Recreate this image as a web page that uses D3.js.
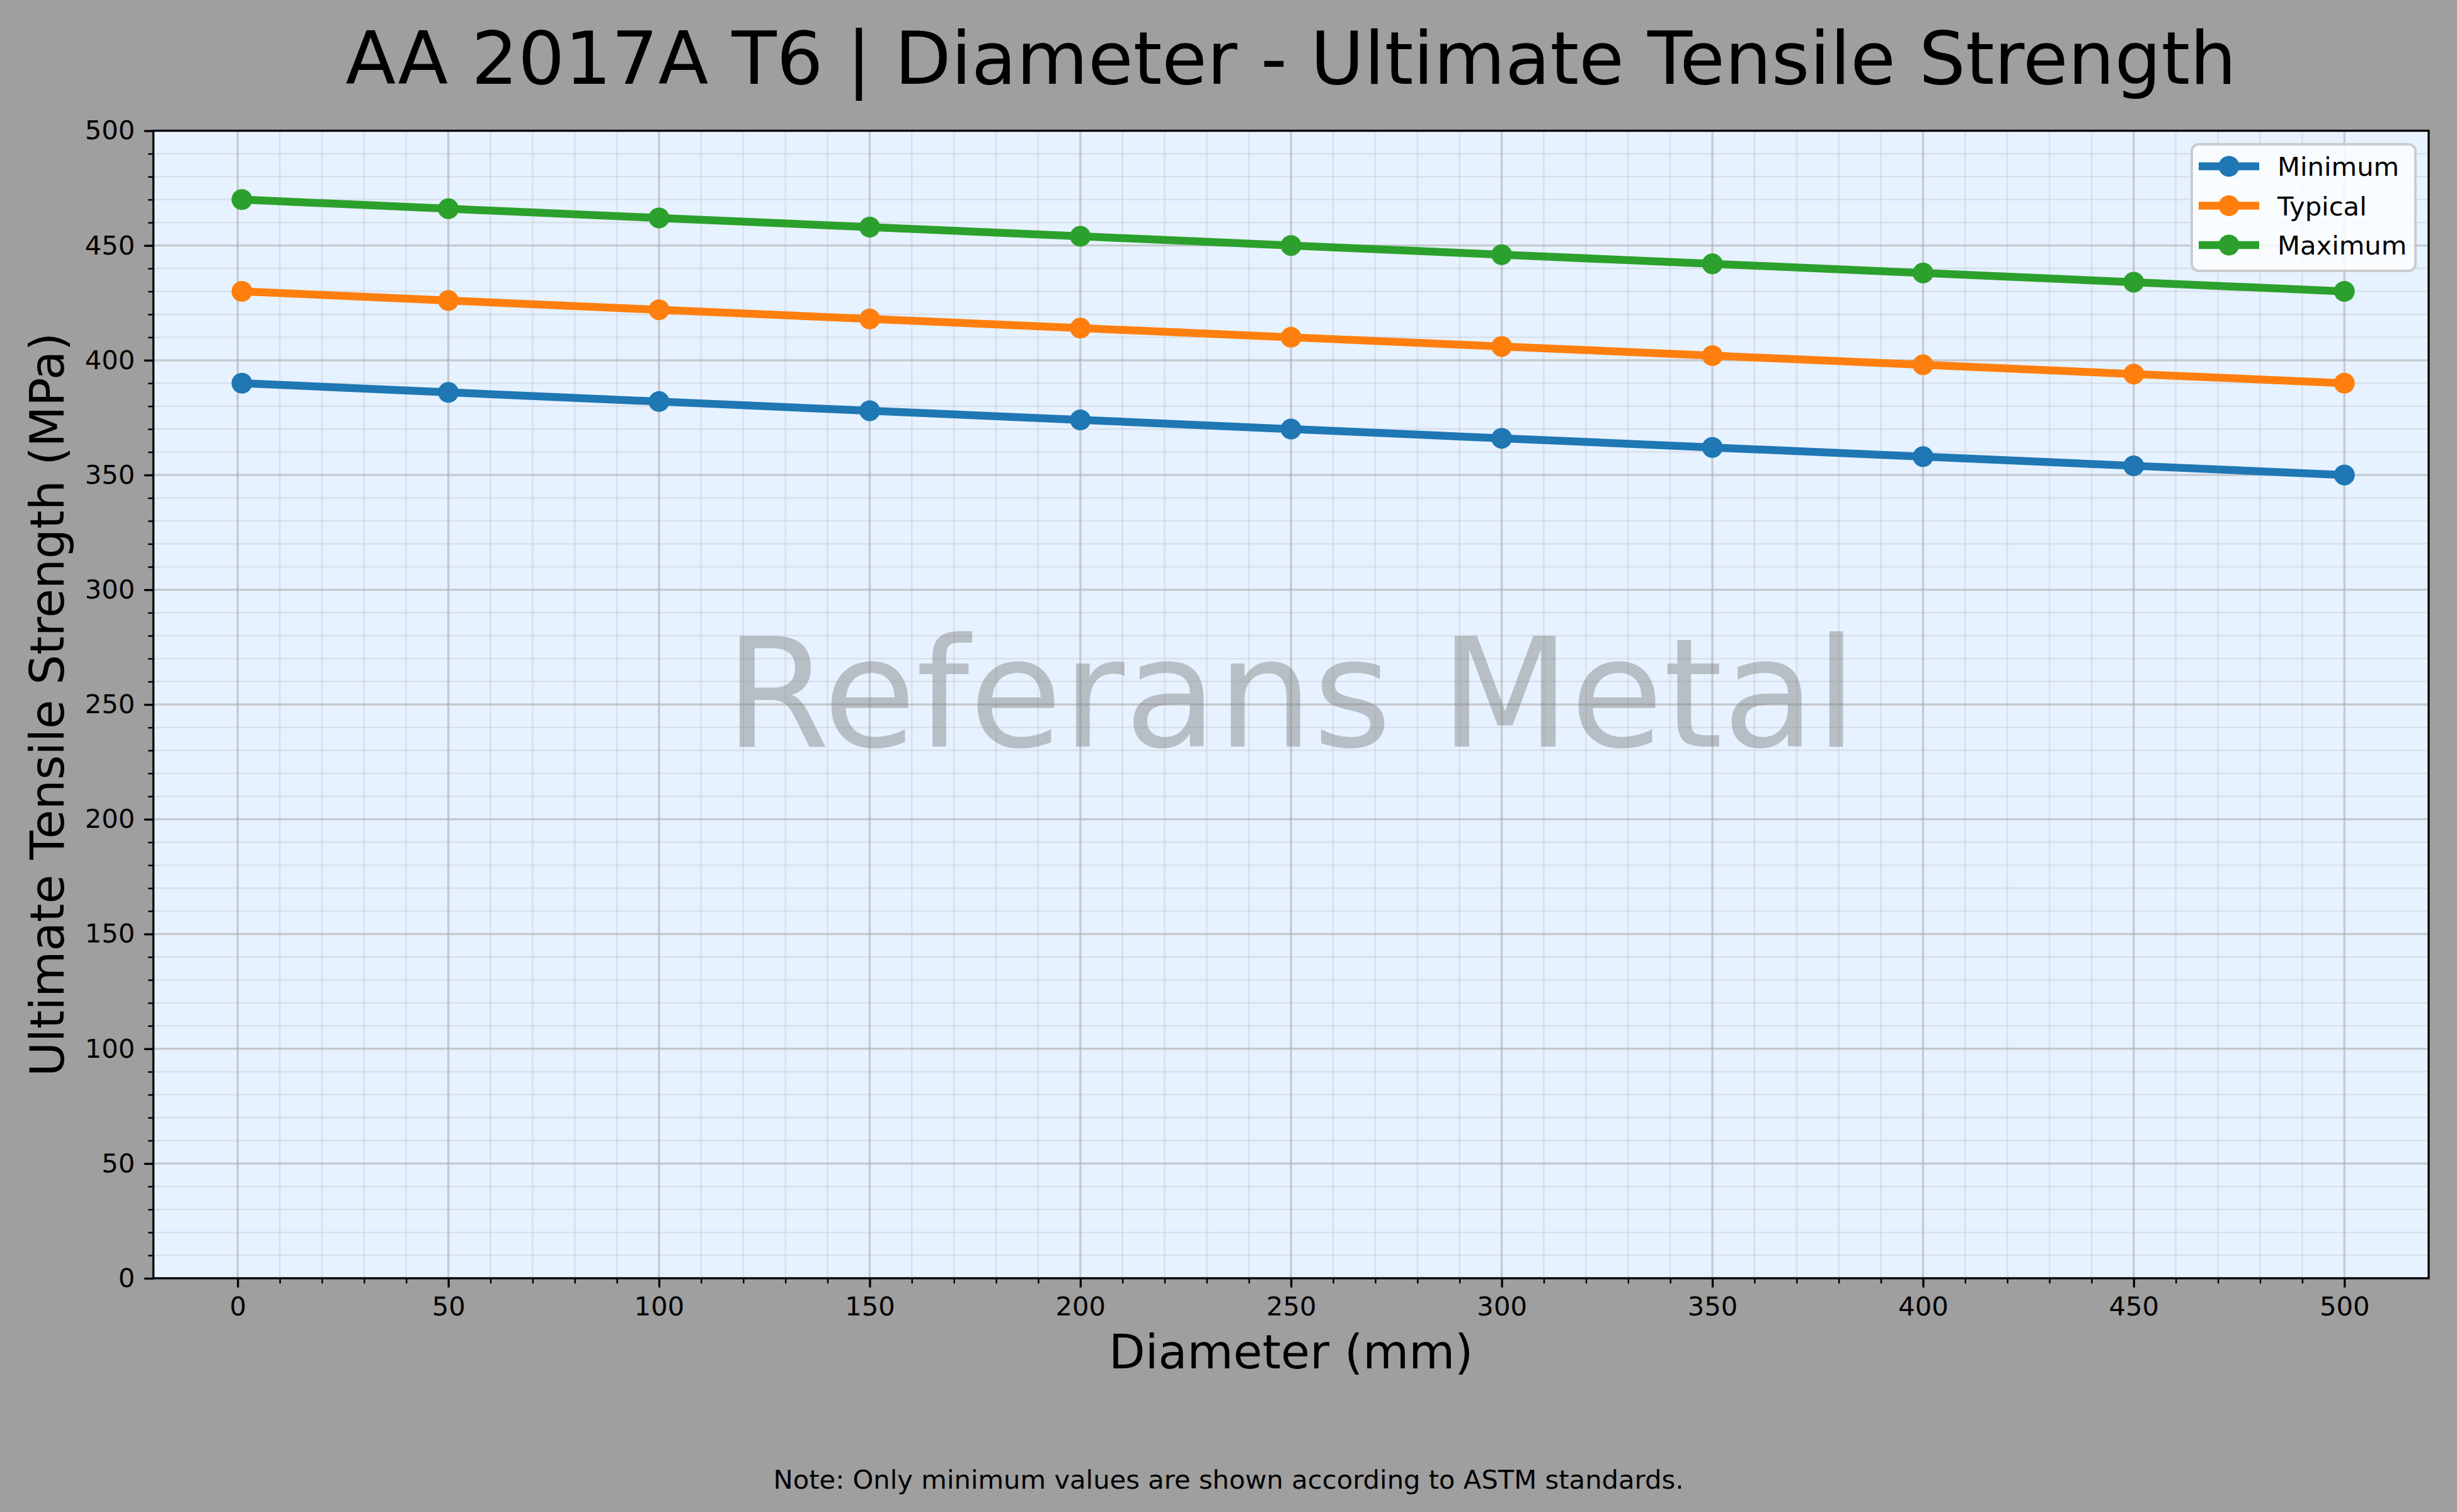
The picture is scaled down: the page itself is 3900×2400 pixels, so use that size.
<!DOCTYPE html>
<html>
<head>
<meta charset="utf-8">
<script src="https://cdn.jsdelivr.net/npm/d3@7"></script>
<style>
  body { margin: 0; background: #9f9f9f; }
  svg { display: block; font-family: "DejaVu Sans", sans-serif; }
</style>
</head>
<body>
<svg id="chart"></svg>
<script>
const width = 3900;
const height = 2400;
const plotLeft = 243.5;
const plotRight = 3855;
const plotTop = 207.5;
const plotBottom = 2029;

// chart values
const diameters = [1, 50, 100, 150, 200, 250, 300, 350, 400, 450, 500];
const minimumValues = [390, 386, 382, 378, 374, 370, 366, 362, 358, 354, 350];
const typicalValues = [430, 426, 422, 418, 414, 410, 406, 402, 398, 394, 390];
const maximumValues = [470, 466, 462, 458, 454, 450, 446, 442, 438, 434, 430];
const seriesNames = ['Minimum', 'Typical', 'Maximum'];
const seriesColors = ['#1f77b4', '#ff7f0e', '#2ca02c'];
const xTicks = [0, 50, 100, 150, 200, 250, 300, 350, 400, 450, 500];
const yTicks = [0, 50, 100, 150, 200, 250, 300, 350, 400, 450, 500];

const titleText = 'AA 2017A T6 | Diameter - Ultimate Tensile Strength';
const xLabelText = 'Diameter (mm)';
const yLabelText = 'Ultimate Tensile Strength (MPa)';
const noteText = 'Note: Only minimum values are shown according to ASTM standards.';
const watermarkText = 'Referans Metal';

function minorTicks(major){
  let out = [];
  for(let i = 0; i < major.length - 1; i++){
    let step = (major[i+1] - major[i]) / 5;
    for(let k = 1; k < 5; k++) out.push(major[i] + k*step);
  }
  return out;
}

function renderChart(){
  const svg = d3.select('#chart')
                .attr('width', width)
                .attr('height', height);

  svg.append('rect')
     .attr('width', width).attr('height', height)
     .attr('fill', '#9f9f9f');

  const x = d3.scaleLinear().domain([-20, 520]).range([plotLeft, plotRight]);
  const y = d3.scaleLinear().domain([0, 500]).range([plotBottom, plotTop]);

  const xMinor = minorTicks(xTicks);
  const yMinor = minorTicks(yTicks);

  svg.append('rect')
     .attr('x', plotLeft).attr('y', plotTop)
     .attr('width', plotRight - plotLeft).attr('height', plotBottom - plotTop)
     .attr('fill', '#e6f2ff');

  // grid, minor then major
  const grid = svg.append('g').attr('class', 'grid');
  grid.selectAll('.vminor').data(xMinor).enter().append('line')
      .attr('x1', d => x(d)).attr('x2', d => x(d))
      .attr('y1', plotTop).attr('y2', plotBottom)
      .attr('stroke', '#b0b0b0').attr('stroke-opacity', 0.27).attr('stroke-width', 2.5);
  grid.selectAll('.hminor').data(yMinor).enter().append('line')
      .attr('y1', d => y(d)).attr('y2', d => y(d))
      .attr('x1', plotLeft).attr('x2', plotRight)
      .attr('stroke', '#b0b0b0').attr('stroke-opacity', 0.27).attr('stroke-width', 2.5);
  grid.selectAll('.vmajor').data(xTicks).enter().append('line')
      .attr('x1', d => x(d)).attr('x2', d => x(d))
      .attr('y1', plotTop).attr('y2', plotBottom)
      .attr('stroke', '#b0b0b0').attr('stroke-opacity', 0.62).attr('stroke-width', 3.3);
  grid.selectAll('.hmajor').data(yTicks).enter().append('line')
      .attr('y1', d => y(d)).attr('y2', d => y(d))
      .attr('x1', plotLeft).attr('x2', plotRight)
      .attr('stroke', '#b0b0b0').attr('stroke-opacity', 0.62).attr('stroke-width', 3.3);

  // series
  const seriesValues = [minimumValues, typicalValues, maximumValues];
  const line = d3.line().x(d => x(d[0])).y(d => y(d[1]));
  seriesValues.forEach(function(values, i){
    let pts = diameters.map((d, j) => [d, values[j]]);
    let g = svg.append('g').attr('class', 'series');
    g.append('path')
     .attr('d', line(pts))
     .attr('fill', 'none')
     .attr('stroke', seriesColors[i])
     .attr('stroke-width', 12.5)
     .attr('stroke-linejoin', 'round')
     .attr('stroke-linecap', 'butt');
    g.selectAll('circle').data(pts).enter().append('circle')
     .attr('cx', d => x(d[0])).attr('cy', d => y(d[1]))
     .attr('r', 16.5)
     .attr('fill', seriesColors[i]);
  });

  // watermark
  svg.append('text')
     .attr('x', (plotLeft + plotRight)/2)
     .attr('y', 1185)
     .attr('text-anchor', 'middle')
     .attr('font-size', 240)
     .attr('fill', '#808080')
     .attr('fill-opacity', 0.46)
     .text(watermarkText);

  // axes
  const xAxis = d3.axisBottom(x).tickValues(xTicks).tickSize(14.6).tickPadding(14.6).tickFormat(d3.format('d'));
  const xAxisMinor = d3.axisBottom(x).tickValues(xMinor).tickSize(8.3).tickFormat('');
  const yAxis = d3.axisLeft(y).tickValues(yTicks).tickSize(14.6).tickPadding(14.6).tickFormat(d3.format('d'));
  const yAxisMinor = d3.axisLeft(y).tickValues(yMinor).tickSize(8.3).tickFormat('');

  function styleAxis(g, w){
    g.select('.domain').remove();
    g.selectAll('.tick line').attr('stroke', '#000').attr('stroke-width', w);
    g.selectAll('.tick text').attr('fill', '#000').attr('font-size', 41.7)
     .attr('font-family', '"DejaVu Sans", sans-serif');
  }

  svg.append('g').attr('transform', 'translate(0,' + plotBottom + ')')
     .call(xAxisMinor).call(g => styleAxis(g, 2.5));
  svg.append('g').attr('transform', 'translate(0,' + plotBottom + ')')
     .call(xAxis).call(g => styleAxis(g, 3.3));
  svg.append('g').attr('transform', 'translate(' + plotLeft + ',0)')
     .call(yAxisMinor).call(g => styleAxis(g, 2.5));
  svg.append('g').attr('transform', 'translate(' + plotLeft + ',0)')
     .call(yAxis).call(g => styleAxis(g, 3.3));

  svg.append('rect')
     .attr('x', plotLeft).attr('y', plotTop)
     .attr('width', plotRight - plotLeft).attr('height', plotBottom - plotTop)
     .attr('fill', 'none').attr('stroke', '#000').attr('stroke-width', 3.3);

  // legend
  const legend = svg.append('g').attr('class', 'legend');
  legend.append('rect')
        .attr('x', 3479).attr('y', 229)
        .attr('width', 355).attr('height', 201)
        .attr('rx', 11).attr('ry', 11)
        .attr('fill', '#ffffff').attr('fill-opacity', 0.8)
        .attr('stroke', '#cccccc').attr('stroke-width', 4);
  seriesNames.forEach(function(name, i){
    let cy = 264 + i*62.5;
    legend.append('line')
          .attr('x1', 3490).attr('x2', 3586)
          .attr('y1', cy).attr('y2', cy)
          .attr('stroke', seriesColors[i]).attr('stroke-width', 12.5);
    legend.append('circle')
          .attr('cx', 3538).attr('cy', cy).attr('r', 16.5)
          .attr('fill', seriesColors[i]);
    legend.append('text')
          .attr('x', 3615).attr('y', cy + 15)
          .attr('font-size', 41.7).attr('fill', '#000')
          .text(name);
  });

  // titles
  svg.append('text')
     .attr('x', (plotLeft + plotRight)/2).attr('y', 133)
     .attr('text-anchor', 'middle').attr('font-size', 116.5)
     .attr('fill', '#000').text(titleText);
  svg.append('text')
     .attr('x', (plotLeft + plotRight)/2).attr('y', 2172)
     .attr('text-anchor', 'middle').attr('font-size', 75)
     .attr('fill', '#000').text(xLabelText);
  svg.append('text')
     .attr('transform', 'translate(101,' + (plotTop + plotBottom)/2 + ') rotate(-90)')
     .attr('text-anchor', 'middle').attr('font-size', 75)
     .attr('fill', '#000').text(yLabelText);
  svg.append('text')
     .attr('x', width/2).attr('y', 2363)
     .attr('text-anchor', 'middle').attr('font-size', 41.7)
     .attr('fill', '#000').text(noteText);
}

renderChart();
</script>
</body>
</html>
